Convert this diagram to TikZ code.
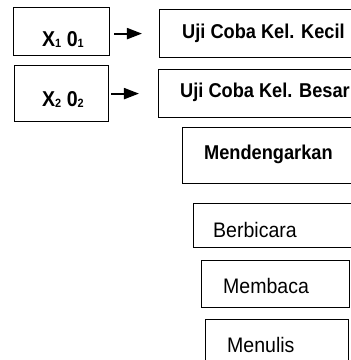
\documentclass[tikz,border=0pt]{standalone}
\usepackage{fontspec}
\setmainfont{Liberation Sans}[FakeStretch=0.93, BoldFeatures={FakeStretch=0.91}]
\usetikzlibrary{arrows.meta}
\newcommand{\sbs}[1]{\raisebox{-1pt}{\fontsize{12}{12}\selectfont #1}}
\tikzset{
  box/.style={draw=black, line width=1.2pt, rectangle, inner sep=0pt, anchor=north west},
  blbl/.style={anchor=base west, inner sep=0pt, font=\fontsize{20}{21}\selectfont\bfseries},
  xlbl/.style={anchor=base west, inner sep=0pt, font=\fontsize{21.5}{22}\selectfont\bfseries},
  rlbl/.style={anchor=base west, inner sep=0pt, font=\fontsize{21}{22}\selectfont},
  arr/.style={line width=2pt, -{Triangle[length=15pt,width=11pt]}}
}
\begin{document}
\begin{tikzpicture}[x=1pt,y=-1pt]
\useasboundingbox (0,0) rectangle (351,360);
\begin{scope}
\clip (0,0) rectangle (351,360);
% left boxes
\node[box, minimum width=96pt, minimum height=48pt] (A) at (13,7) {};
\node[xlbl] (Atxt) at (42,46) {X\sbs{1} 0\sbs{1}};
\node[box, minimum width=94pt, minimum height=56pt] (B) at (14,65) {};
\node[xlbl] (Btxt) at (42,106) {X\sbs{2} 0\sbs{2}};
% right boxes
\node[box, minimum width=200pt, minimum height=48pt] (C) at (159,9) {};
\node[blbl] (Ctxt) at (182,38) {Uji Coba Kel. Kecil};
\node[box, minimum width=200pt, minimum height=48pt] (D) at (158,69) {};
\node[blbl] (Dtxt) at (180,97) {Uji Coba Kel. Besar};
\node[box, minimum width=200pt, minimum height=56pt] (E) at (182,127) {};
\node[blbl] (Etxt) at (204,159) {Mendengarkan};
\node[box, minimum width=200pt, minimum height=44pt] (F) at (193,203) {};
\node[rlbl] (Ftxt) at (213,237) {Berbicara};
\node[box, minimum width=148pt, minimum height=47pt] (G) at (201,260) {};
\node[rlbl] (Gtxt) at (223,293) {Membaca};
\node[box, minimum width=143pt, minimum height=60pt] (H) at (205,319) {};
\node[rlbl] (Htxt) at (227,352) {Menulis};
% arrows
\draw[arr, shorten <=4pt, shorten >=17pt] ([yshift=-2pt]A.east) -- ([yshift=-2pt]A.east -| C.west);
\draw[arr, shorten <=2pt, shorten >=19pt] (B.east) -- (B.east -| D.west);
\end{scope}
\end{tikzpicture}
\end{document}
